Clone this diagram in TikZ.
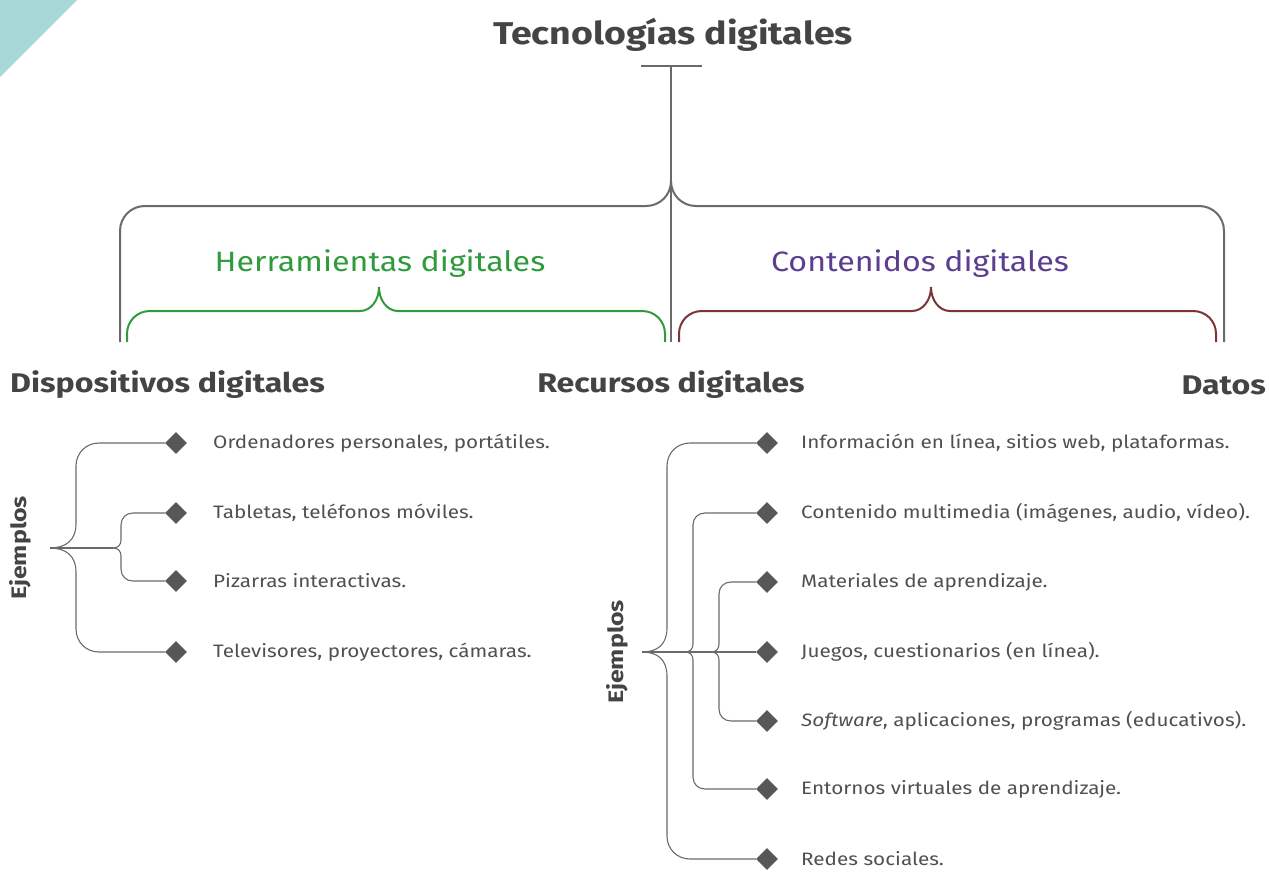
\documentclass[tikz,border=0pt]{standalone}
\usepackage{fontspec}
\setmainfont{Fira Sans}[FakeStretch=1.15]
\newfontfamily\bfam{Fira Sans}[FakeStretch=1.19]
\usetikzlibrary{shapes.geometric}
\definecolor{teal1}{HTML}{A8D8D8}
\definecolor{linegray}{HTML}{6A6A6A}
\definecolor{txtgray}{HTML}{505050}
\definecolor{darkgray1}{HTML}{444444}
\definecolor{green1}{HTML}{2F9B3C}
\definecolor{brown1}{HTML}{7A3636}
\definecolor{purple1}{HTML}{5C3D8F}
\tikzset{
  bigline/.style={draw=linegray, line width=2pt},
  greenline/.style={draw=green1, line width=2pt},
  brownline/.style={draw=brown1, line width=2pt},
  thinline/.style={draw=linegray, line width=1.1pt},
  dia/.style={diamond, fill=darkgray1!90, draw=none, minimum width=22pt, minimum height=22pt, inner sep=0pt},
  item/.style={anchor=west, text=txtgray, font=\fontsize{18}{20}\selectfont, inner sep=0pt},
  head/.style={text=darkgray1, font=\bfam\fontsize{27}{30}\selectfont\bfseries, inner sep=0pt},
  ejem/.style={text=darkgray1, font=\bfam\fontsize{21}{24}\selectfont\bfseries, rotate=90, inner sep=0pt},
}
\begin{document}
\begin{tikzpicture}[x=1pt,y=-1pt]
\useasboundingbox (0,0) rectangle (1269,871);
% corner triangle
\fill[teal1] (0,0) -- (77,0) -- (0,77) -- cycle;
% title
\node[text=darkgray1, font=\bfam\fontsize{31.5}{34}\selectfont\bfseries, inner sep=0pt] (title) at (673,35) {Tecnologías digitales};
% T and stem
\coordinate (tl) at (641,66); \coordinate (tr) at (702,66);
\coordinate (stemtop) at (671,66); \coordinate (stembot) at (671,342);
\draw[bigline] (tl) -- (tr);
\draw[bigline] (stemtop) -- (stembot);
% big brace
\coordinate (bl) at (120,342); \coordinate (br) at (1224,342); \coordinate (btip) at (671,181);
\draw[bigline] (bl) -- (120,231) .. controls (120,217) and (131,206) .. (145,206) -- (646,206) .. controls (660,206) and (671,195) .. (btip);
\draw[bigline] (btip) .. controls (671,195) and (682,206) .. (696,206) -- (1199,206) .. controls (1213,206) and (1224,217) .. (1224,231) -- (br);
% green brace
\coordinate (gl) at (127,342); \coordinate (gr) at (665,342); \coordinate (gtip) at (379,287);
\draw[greenline] (gl) -- (127,334) .. controls (127,321) and (137,311) .. (150,311) -- (360,311) .. controls (371,311) and (379,300) .. (gtip);
\draw[greenline] (gtip) .. controls (379,300) and (387,311) .. (398,311) -- (642,311) .. controls (655,311) and (665,321) .. (665,334) -- (gr);
% brown brace
\coordinate (cl) at (679,342); \coordinate (cr) at (1216,342); \coordinate (ctip) at (931,287);
\draw[brownline] (cl) -- (679,334) .. controls (679,321) and (689,311) .. (702,311) -- (912,311) .. controls (923,311) and (931,300) .. (ctip);
\draw[brownline] (ctip) .. controls (931,300) and (939,311) .. (950,311) -- (1193,311) .. controls (1206,311) and (1216,321) .. (1216,334) -- (cr);
% category labels
\node[text=green1, font=\fontsize{28}{31}\selectfont, inner sep=0pt] (herr) at (380,264) {Herramientas digitales};
\node[text=purple1, font=\fontsize{28}{31}\selectfont, inner sep=0pt] (cont) at (920,264) {Contenidos digitales};
% headers
\node[head, anchor=west] (disp) at (10,385) {Dispositivos digitales};
\node[head] (recu) at (671,385) {Recursos digitales};
\node[head, anchor=east] (datos) at (1266,385) {Datos};
% left examples
\node[ejem] (ejL) at (20,548) {Ejemplos};
\coordinate (rootL) at (50,548);
\coordinate (midL) at (113,548);
\node[dia] (d1) at (176,443) {};
\node[dia] (d2) at (176,513) {};
\node[dia] (d3) at (176,581) {};
\node[dia] (d4) at (176,652) {};
\node[item] (t1) at (213,443) {Ordenadores personales, portátiles.};
\node[item] (t2) at (213,513) {Tabletas, teléfonos móviles.};
\node[item] (t3) at (213,581) {Pizarras interactivas.};
\node[item] (t4) at (213,652) {Televisores, proyectores, cámaras.};
\draw[thinline] (rootL) .. controls (66,548) and (76,540) .. (76,524) -- (76,466) .. controls (76,453) and (86,443) .. (99,443) -- (d1.west);
\draw[thinline] (rootL) .. controls (66,548) and (76,556) .. (76,572) -- (76,629) .. controls (76,642) and (86,652) .. (99,652) -- (d4.west);
\draw[thinline] (rootL) -- (midL);
\draw[thinline] (midL) .. controls (118,548) and (121,545) .. (121,540) -- (121,525) .. controls (121,518) and (126,513) .. (133,513) -- (d2.west);
\draw[thinline] (midL) .. controls (118,548) and (121,551) .. (121,556) -- (121,569) .. controls (121,576) and (126,581) .. (133,581) -- (d3.west);
% right examples
\node[ejem] (ejR) at (617,652) {Ejemplos};
\coordinate (rootR) at (642,652);
\coordinate (m2) at (685,652);
\coordinate (m3) at (711,652);
\node[dia] (r1) at (767,443) {};
\node[dia] (r2) at (767,513) {};
\node[dia] (r3) at (767,582) {};
\node[dia] (r4) at (767,652) {};
\node[dia] (r5) at (767,721) {};
\node[dia] (r6) at (767,789) {};
\node[dia] (r7) at (767,859) {};
\node[item] (s1) at (801,443) {Información en línea, sitios web, plataformas.};
\node[item] (s2) at (801,513) {Contenido multimedia (imágenes, audio, vídeo).};
\node[item] (s3) at (801,582) {Materiales de aprendizaje.};
\node[item] (s4) at (801,652) {Juegos, cuestionarios (en línea).};
\node[item] (s5) at (801,721) {\textit{Software}, aplicaciones, programas (educativos).};
\node[item] (s6) at (801,789) {Entornos virtuales de aprendizaje.};
\node[item] (s7) at (801,859) {Redes sociales.};
\draw[thinline] (rootR) -- (r4.west);
\draw[thinline] (rootR) .. controls (658,652) and (667,644) .. (667,628) -- (667,466) .. controls (667,453) and (677,443) .. (690,443) -- (r1.west);
\draw[thinline] (rootR) .. controls (658,652) and (667,660) .. (667,676) -- (667,836) .. controls (667,849) and (677,859) .. (690,859) -- (r7.west);
\draw[thinline] (m2) .. controls (690,652) and (693,649) .. (693,644) -- (693,525) .. controls (693,518) and (698,513) .. (705,513) -- (r2.west);
\draw[thinline] (m2) .. controls (690,652) and (693,655) .. (693,660) -- (693,777) .. controls (693,784) and (698,789) .. (705,789) -- (r6.west);
\draw[thinline] (m3) .. controls (716,652) and (719,649) .. (719,644) -- (719,594) .. controls (719,587) and (724,582) .. (731,582) -- (r3.west);
\draw[thinline] (m3) .. controls (716,652) and (719,655) .. (719,660) -- (719,709) .. controls (719,716) and (724,721) .. (731,721) -- (r5.west);
\end{tikzpicture}
\end{document}
